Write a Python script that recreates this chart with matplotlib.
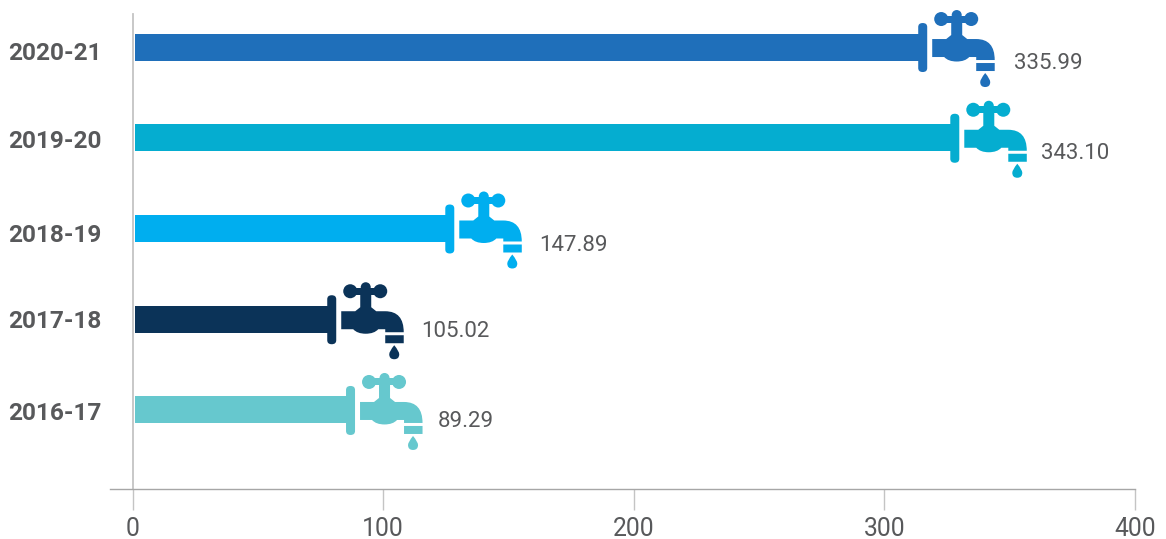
import matplotlib
matplotlib.use("Agg")
import matplotlib.pyplot as plt
from matplotlib.path import Path
from matplotlib.patches import PathPatch
from matplotlib.transforms import Affine2D

W, H = 1166, 539

years = ["2016-17", "2017-18", "2018-19", "2019-20", "2020-21"]
values = [89.29, 105.02, 147.89, 343.10, 335.99]
# drawn length of the pipe, shorter than the value because the tap sits on the end
pipe_lengths = [85.2, 77.7, 124.8, 326.3, 313.5]
colors = ["#66C8CE", "#0B3358", "#00AEEF", "#05ADD0", "#1F6FBA"]
label_dx = [92, 94, 94, 91, 96]
label_dy = [12, 12, 17, 16, 16]
year_dy = [1, 0, 5, 1, 4]

plt.rcParams["font.family"] = ["Roboto", "DejaVu Sans"]
text_color = "#58595B"

fig = plt.figure(figsize=(W / 100, H / 100), dpi=100)
ax = fig.add_axes([132.5 / W, 1 - 489 / H, 1002.5 / W, 475 / H])
ax.set_xlim(0, 400)
ax.set_ylim(-0.871, 4.364)


def tap_paths():
    # tap in pixels, origin at pipe end / pipe centre, y down
    M, L, C, Z = Path.MOVETO, Path.LINETO, Path.CURVE3, Path.CLOSEPOLY
    parts = []
    # flange, with a short overlap on the pipe so no seam shows
    parts.append(Path([(0, -20), (0, -24), (4.5, -24), (9, -24), (9, -20), (9, 21), (9, 25), (4.5, 25), (0, 25), (0, 21), (0, -20)],
                      [M, C, C, C, C, L, C, C, C, C, Z]))
    parts.append(Path([(-2, -13.5), (1, -13.5), (1, 13.5), (-2, 13.5), (-2, -13.5)], [M, L, L, L, Z]))
    # body, stem and spout
    parts.append(Path([(14, -8), (28, -8), (33, -12), (33, -12), (33, -30), (44, -30), (44, -12), (44, -12), (49, -8),
                       (58, -8), (76.5, -8), (76.5, 13), (58, 13), (58, 10), (51, 10), (47, 14.5), (38.5, 14.5), (30, 14.5), (26, 10), (14, 10), (14, -8)],
                      [M, L, L, L, L, L, L, L, L, L, C, C, L, L, L, C, C, C, C, L, Z]))
    # handle
    parts.append(Path.circle((23, -28), 7))
    parts.append(Path.circle((53, -28), 7))
    parts.append(Path.circle((38.5, -32), 5))
    parts.append(Path([(23, -31.5), (53, -31.5), (53, -24.5), (23, -24.5), (23, -31.5)], [M, L, L, L, Z]))
    # nozzle
    parts.append(Path([(58, 16), (76.5, 16), (76.5, 20), (76.5, 24), (72, 24), (63, 24), (58, 24), (58, 20), (58, 16)],
                      [M, L, C, C, L, C, C, L, Z]))
    # drop
    parts.append(Path([(67, 26), (72, 32), (72, 35), (72, 40), (67, 40), (62, 40), (62, 35), (62, 32), (67, 26)],
                      [M, C, C, C, C, C, C, C, C]))
    return parts


for i, year in enumerate(years):
    start = 1.0
    ax.barh(i, pipe_lengths[i] - start, left=start, height=27 / 90.7, color=colors[i], linewidth=0, zorder=3)
    x_px, y_px = ax.transData.transform((pipe_lengths[i], i))
    tr = Affine2D().scale(1, -1).translate(x_px, y_px)
    for p in tap_paths():
        ax.add_patch(PathPatch(p, transform=tr, facecolor=colors[i], edgecolor="none", zorder=4, clip_on=False))
    fig.text((x_px + label_dx[i]) / W, (y_px - label_dy[i]) / H, "%.2f" % values[i], ha="left", va="center",
             fontsize=16, color=text_color)

for s in ["top", "right"]:
    ax.spines[s].set_visible(False)
ax.spines["left"].set_color("#C4C4C4")
ax.spines["left"].set_linewidth(1.3)
ax.spines["bottom"].set_color("#A6A6A6")
ax.spines["bottom"].set_linewidth(1.0)
ax.spines["bottom"].set_bounds(-9, 400)

ax.set_xticks([0, 100, 200, 300, 400])
ax.tick_params(axis="x", length=15, width=1, color="#C4C4C4", labelsize=17.8, labelcolor=text_color, pad=5)
ax.set_yticks(range(len(years)))
ax.set_yticklabels(years, fontsize=17.6, fontweight="bold", color=text_color)
ax.tick_params(axis="y", length=0, pad=22)
for label, dy in zip(ax.get_yticklabels(), year_dy):
    label.set_transform(label.get_transform() + Affine2D().translate(0, -dy))

fig.savefig("out.png", dpi=100)
